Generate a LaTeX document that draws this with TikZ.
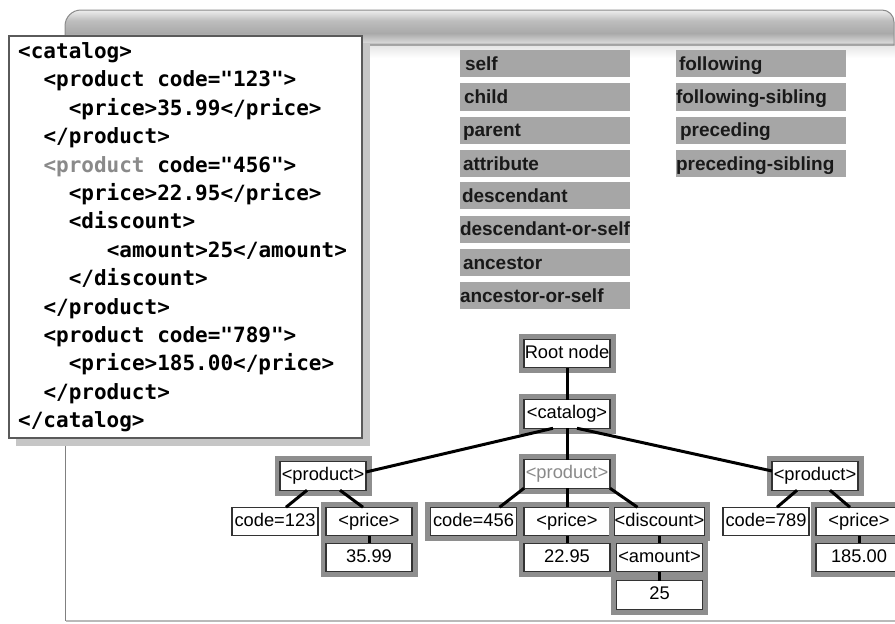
\documentclass[tikz,border=0pt]{standalone}
\usepackage{fontspec}
\setmainfont{Liberation Sans}
\newfontfamily\codefont{DejaVu Sans Mono}
\newfontfamily\axisfontfam{Liberation Sans}
\newfontfamily\treefontfam{Liberation Sans}

\definecolor{framegray}{HTML}{8E8E8E}
\definecolor{axisgray}{HTML}{A6A6A6}
\definecolor{boxline}{HTML}{333333}
\definecolor{codegray}{HTML}{8A8A8A}
\definecolor{shadowgray}{HTML}{C6C6C6}
\definecolor{codeframe}{HTML}{5A5A5A}
\definecolor{edgegray}{HTML}{808080}
\definecolor{barbot}{HTML}{9C9C9C}
\definecolor{barlow}{HTML}{D6D6D6}
\definecolor{barmid}{HTML}{A9A9A9}
\definecolor{barmidb}{HTML}{BEBEBE}
\definecolor{bartop}{HTML}{EEEEEE}
\definecolor{barline}{HTML}{8A8A8A}

\pgfdeclareverticalshading{barshade}{100bp}{color(0bp)=(barbot); color(25bp)=(barbot); color(29bp)=(barlow); color(42bp)=(barmid); color(60bp)=(barmidb); color(75bp)=(bartop); color(100bp)=(bartop)}

\tikzset{
  treebox/.style={draw=boxline, line width=1.3pt, fill=white, inner sep=0pt, outer sep=0pt,
    minimum width=86pt, minimum height=28.5pt, text height=13.5pt, text depth=4pt,
    font=\treefontfam\fontsize{18.3}{20}\selectfont},
  framed/.style={preaction={draw=framegray, line width=11pt}},
  axisbox/.style={fill=axisgray, minimum height=27.3pt, inner ysep=0pt, inner xsep=3pt,
    text width=164pt, align=left, text height=16pt, text depth=3pt,
    font=\axisfontfam\bfseries\fontsize{19}{20}\selectfont, text=black!90},
  axiswide/.style={inner xsep=0pt, text width=170pt},
  link/.style={line width=3pt, black},
  codeline/.style={anchor=base west, inner sep=0pt, font=\codefont\bfseries\fontsize{21}{24}\selectfont},
}

\begin{document}
\begin{tikzpicture}[x=1pt,y=-1pt]
\useasboundingbox (0,0) rectangle (895,624);

% window frame
\shade[top color=gray!22, bottom color=white] (370,44) rectangle (895,58);
\draw[draw=barline, line width=1pt, shading=barshade]
  (65,45) [rounded corners=16pt] -- (65,10) [rounded corners=12pt] -- (894,10) [sharp corners] -- (894,45) -- cycle;
\draw[edgegray, line width=1.5pt] (65.5,44) -- (65.5,621);
\draw[gray!55, line width=1.5pt] (65.5,621) -- (895,621);

% code listing
\fill[shadowgray] (16,43) rectangle (370,446);
\node[draw=codeframe, line width=1.5pt, fill=white, anchor=north west, inner sep=0pt,
  minimum width=353pt, minimum height=402pt] (codebox) at (8,35) {};
\node[codeline] (c1)  at (18,58.5)   {<catalog>};
\node[codeline] (c2)  at (43.3,86.9) {<product code="123">};
\node[codeline] (c3)  at (68.6,115.3) {<price>35.99</price>};
\node[codeline] (c4)  at (43.3,143.7) {</product>};
\node[codeline] (c5)  at (43.3,172.1) {{\color{codegray}<product} code="456">};
\node[codeline] (c6)  at (68.6,200.5) {<price>22.95</price>};
\node[codeline] (c7)  at (68.6,228.9) {<discount>};
\node[codeline] (c8)  at (106.6,257.3) {<amount>25</amount>};
\node[codeline] (c9)  at (68.6,285.7) {</discount>};
\node[codeline] (c10) at (43.3,314.1) {</product>};
\node[codeline] (c11) at (43.3,342.5) {<product code="789">};
\node[codeline] (c12) at (68.6,370.9) {<price>185.00</price>};
\node[codeline] (c13) at (43.3,399.3) {</product>};
\node[codeline] (c14) at (18,427.7)  {</catalog>};

% axes
\node[axisbox, inner xsep=5pt, text width=160pt] (self) at (545,63.7) {self};
\node[axisbox, inner xsep=4pt, text width=162pt] (child) at (545,97) {child};
\node[axisbox] (parent) at (545,130.3) {parent};
\node[axisbox] (attribute) at (545,163.7) {attribute};
\node[axisbox, inner xsep=2pt, text width=166pt] (descendant) at (545,195.8) {descendant};
\node[axisbox, axiswide] (descself) at (545,229.2) {descendant-or-self};
\node[axisbox] (ancestor) at (545,262.5) {ancestor};
\node[axisbox, axiswide] (ancself) at (545,295.8) {ancestor-or-self};
\node[axisbox] (following) at (761,63.7) {following};
\node[axisbox, axiswide] (follsib) at (761,97) {following-sibling};
\node[axisbox, inner xsep=4pt, text width=162pt] (preceding) at (761,130.3) {preceding};
\node[axisbox, axiswide] (precsib) at (761,163.7) {preceding-sibling};

% tree
\node[treebox, framed] (root) at (567,353.5) {Root node};
\node[treebox, framed] (catalog) at (567,414) {<catalog>};
\node[treebox, framed] (prod1) at (323,476) {<product>};
\node[treebox, framed, text=codegray] (prod2) at (567,474) {<product>};
\node[treebox, framed] (prod3) at (815,476) {<product>};
\node[treebox] (code123) at (275,521.5) {code=123};
\node[treebox, framed] (price1) at (369,521.5) {<price>};
\node[treebox, framed] (val1) at (369,557.5) {35.99};
\node[treebox, framed] (code456) at (473.5,521.5) {code=456};
\node[treebox, framed] (price2) at (567,521.5) {<price>};
\node[treebox, framed] (val2) at (567,557.5) {22.95};
\node[treebox, framed] (disc) at (659.5,521.5) {<discount>};
\node[treebox, framed] (amount) at (659.5,557.5) {<amount>};
\node[treebox, framed] (val25) at (659.5,595) {25};
\node[treebox] (code789) at (766,521.5) {code=789};
\node[treebox, framed] (price3) at (859,521.5) {<price>};
\node[treebox, framed] (val3) at (859,557.5) {185.00};

% connectors
\draw[link] (root) -- (catalog);
\draw[link] ([xshift=-14pt]catalog.south) -- ([yshift=4pt]prod1.east);
\draw[link] (catalog) -- (prod2);
\draw[link] ([xshift=10pt]catalog.south) -- ([yshift=5pt]prod3.west);
\draw[link] ([xshift=-16pt]prod1.south) -- ([xshift=11pt]code123.north);
\draw[link] ([xshift=17pt]prod1.south) -- ([xshift=-6pt]price1.north);
\draw[link] (price1) -- (val1);
\draw[link] (prod2.south west) -- ([xshift=26pt]code456.north);
\draw[link] (prod2) -- (price2);
\draw[link] (prod2.south east) -- ([xshift=-22pt]disc.north);
\draw[link] (price2) -- (val2);
\draw[link] (disc) -- (amount);
\draw[link] (amount) -- (val25);
\draw[link] ([xshift=-18pt]prod3.south) -- ([xshift=11pt]code789.north);
\draw[link] ([xshift=15pt]prod3.south) -- ([xshift=-9pt]price3.north);
\draw[link] (price3) -- (val3);
\end{tikzpicture}
\end{document}
